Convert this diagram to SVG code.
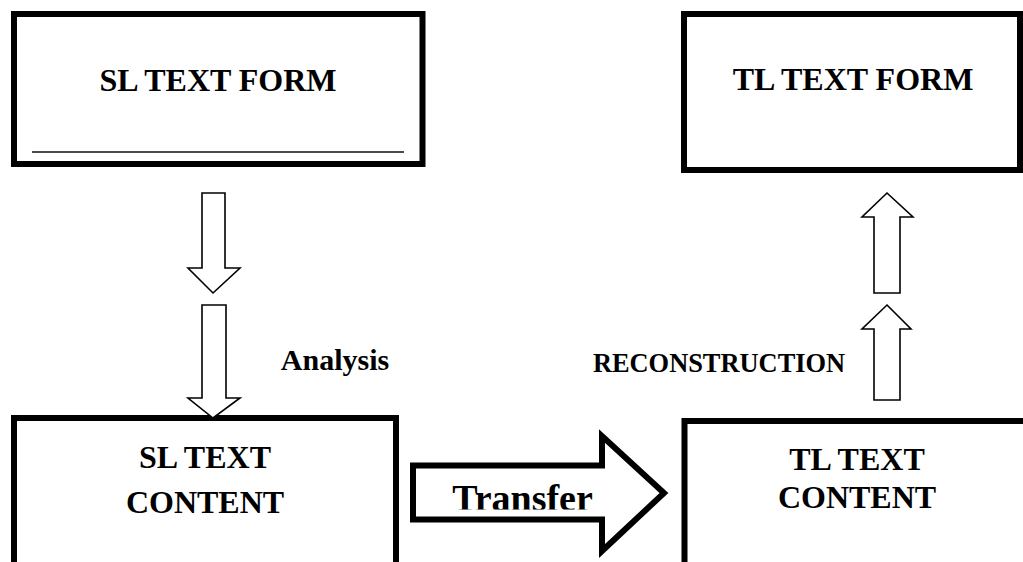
<svg xmlns="http://www.w3.org/2000/svg" width="1023" height="562" viewBox="0 0 1023 562">
  <style>
    .box { fill: #ffffff; stroke: #000000; stroke-width: 6; }
    .blk { fill: #ffffff; stroke: #000000; stroke-width: 1.6; stroke-linejoin: miter; }
    .big { fill: #ffffff; stroke: #000000; stroke-width: 6; stroke-linejoin: miter; }
    .t { font-family: "Liberation Serif", "Times New Roman", serif; font-weight: bold; fill: #000000; text-anchor: middle; }
  </style>
  <defs>
    <clipPath id="transferClip">
      <rect x="416" y="470" width="185" height="39.5"/>
    </clipPath>
  </defs>
  <rect x="0" y="0" width="1023" height="562" fill="#ffffff"/>

  <g id="sl-text-form">
    <rect class="box" x="14" y="14" width="408.5" height="150"/>
    <text class="t" x="218" y="91" font-size="32">SL TEXT FORM</text>
    <line x1="32" y1="152" x2="404" y2="152" stroke="#4a4a4a" stroke-width="2"/>
  </g>

  <g id="tl-text-form">
    <rect class="box" x="684" y="14" width="336" height="156"/>
    <text class="t" x="853" y="90" font-size="32">TL TEXT FORM</text>
  </g>

  <g id="sl-text-content">
    <rect class="box" x="14" y="418" width="382" height="200"/>
    <text class="t" x="205" y="468" font-size="32">SL TEXT</text>
    <text class="t" x="205" y="513" font-size="32">CONTENT</text>
  </g>

  <g id="tl-text-content">
    <rect class="box" x="684.5" y="421" width="400" height="200"/>
    <text class="t" x="857" y="470" font-size="32">TL TEXT</text>
    <text class="t" x="857" y="508" font-size="32">CONTENT</text>
  </g>

  <g id="connectors">
    <polygon class="blk" points="202,193 225,193 225,268 240,268 213,293 188,268 202,268"/>
    <polygon class="blk" points="202,305 226,305 226,398 240,398 213,418 188,398 202,398"/>
    <text class="t" x="335" y="370" font-size="30">Analysis</text>

    <polygon class="big" points="413,465.5 602,465.5 602,436 664,493 602,551 602,519.5 413,519.5"/>
    <text class="t" x="522.5" y="511" font-size="38" clip-path="url(#transferClip)">Transfer</text>

    <polygon class="blk" points="887,193 913,217 900,217 900,293 874,293 874,217 862,217"/>
    <polygon class="blk" points="887,305 911,329 900,329 900,400 874,400 874,329 862,329"/>
    <text class="t" x="719" y="372" font-size="26.4">RECONSTRUCTION</text>
  </g>
</svg>
